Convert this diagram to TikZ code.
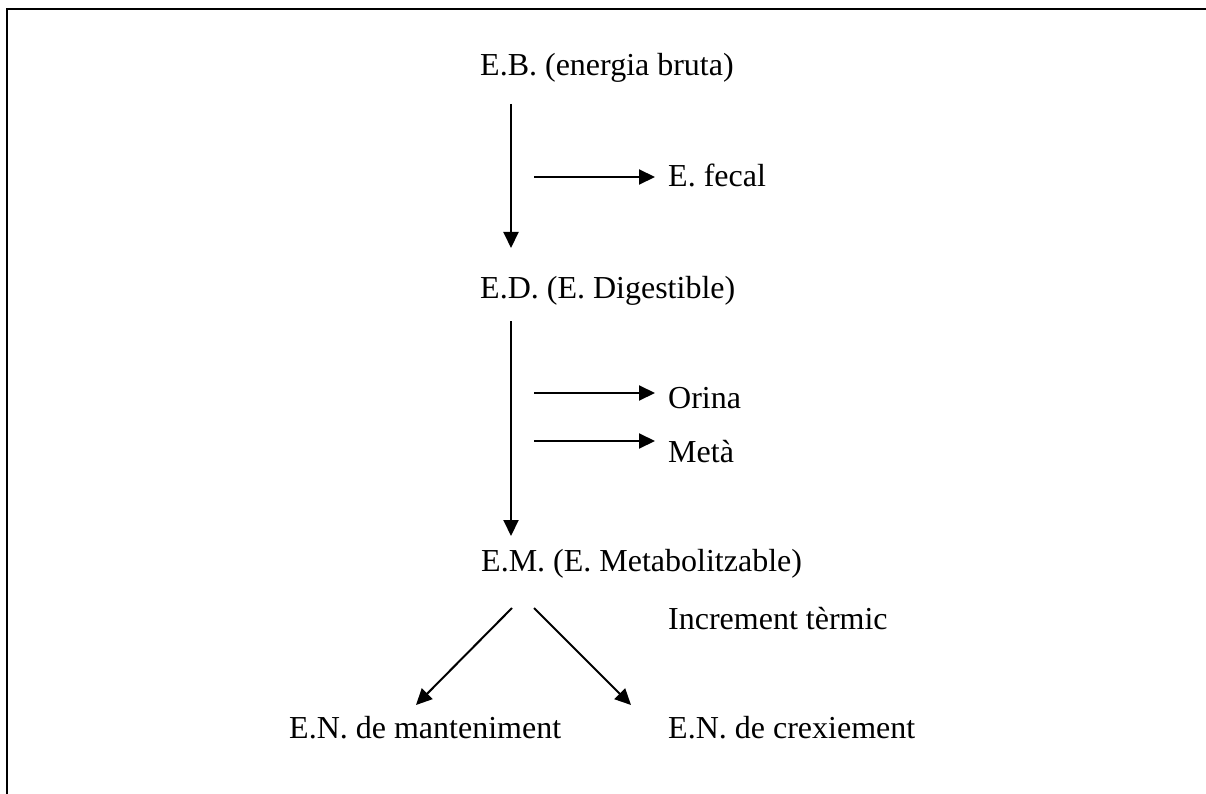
\documentclass[tikz,border=0pt]{standalone}
\usepackage{fontspec}
\setmainfont{Liberation Serif}
\usetikzlibrary{arrows.meta}
\begin{document}
\begin{tikzpicture}[x=1pt,y=-1pt,
  lbl/.style={anchor=base west,inner sep=0pt,font=\fontsize{32}{38}\selectfont},
  arr/.style={line width=2pt,-{Triangle[length=16pt,width=15pt]}},
  frame/.style={line width=2pt}]
\useasboundingbox (0,0) rectangle (1206,794);
\draw[frame] (7,794) -- (7,9) -- (1206,9);

% texts
\node[lbl] (EB)  at (480,76)  {E.B. (energia bruta)};
\node[lbl] (EF)  at (668,187) {E. fecal};
\node[lbl] (ED)  at (480,298) {E.D. (E. Digestible)};
\node[lbl] (OR)  at (668,408) {Orina};
\node[lbl] (MT)  at (668,462) {Metà};
\node[lbl] (EM)  at (481,571) {E.M. (E. Metabolitzable)};
\node[lbl] (IT)  at (668,629) {Increment tèrmic};
\node[lbl] (ENM) at (289,738) {E.N. de manteniment};
\node[lbl] (ENC) at (668,738) {E.N. de crexiement};

% connector end points
\coordinate (a1s) at (511,104);
\coordinate (a1e) at (511,248);
\coordinate (f1s) at (534,177);
\coordinate (f1e) at (655,177);
\coordinate (a2s) at (511,321);
\coordinate (a2e) at (511,536);
\coordinate (o1s) at (534,393);
\coordinate (o1e) at (655,393);
\coordinate (m1s) at (534,441);
\coordinate (m1e) at (655,441);
\coordinate (d1s) at (512,608);
\coordinate (d1e) at (416,705);
\coordinate (d2s) at (534,608);
\coordinate (d2e) at (631,705);

\draw[arr] (a1s) -- (a1e);
\draw[arr] (f1s) -- (f1e);
\draw[arr] (a2s) -- (a2e);
\draw[arr] (o1s) -- (o1e);
\draw[arr] (m1s) -- (m1e);
\draw[arr] (d1s) -- (d1e);
\draw[arr] (d2s) -- (d2e);
\end{tikzpicture}
\end{document}
